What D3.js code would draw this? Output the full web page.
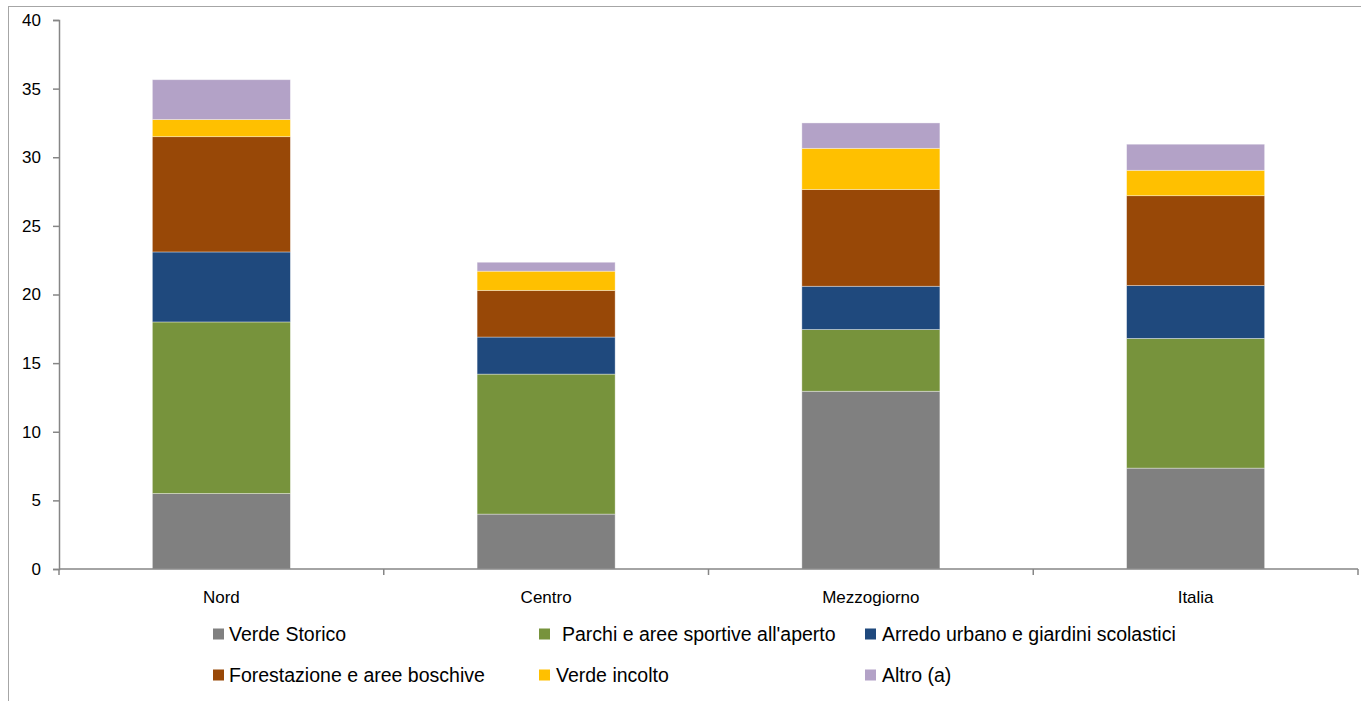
<!DOCTYPE html>
<html>
<head>
<meta charset="utf-8">
<script src="https://cdn.jsdelivr.net/npm/d3@7"></script>
<style>
  html, body { margin: 0; padding: 0; background: #fff; }
  svg { display: block; }
  text { font-family: "Liberation Sans", Arial, sans-serif; fill: #000; }
</style>
</head>
<body>
<svg id="chart" width="1361" height="701"></svg>
<script>
// Regions on the x axis
const categories = ["Nord", "Centro", "Mezzogiorno", "Italia"];

// Series names (stack order, bottom to top)
const seriesNames = [
  "Verde Storico",
  "Parchi e aree sportive all'aperto",
  "Arredo urbano e giardini scolastici",
  "Forestazione e aree boschive",
  "Verde incolto",
  "Altro (a)"
];

// Values per series, one per region
const verdeStorico   = [5.5, 4.0, 12.95, 7.35];
const parchi         = [12.5, 10.2, 4.5, 9.45];
const arredo         = [5.1, 2.7, 3.15, 3.85];
const forestazione   = [8.4, 3.4, 7.05, 6.55];
const verdeIncolto   = [1.25, 1.4, 3.0, 1.85];
const altro          = [2.9, 0.65, 1.85, 1.9];

const seriesColors = ["#808080", "#77933C", "#1F497D", "#984807", "#FFC000", "#B3A2C7"];

const yTicks = [0, 5, 10, 15, 20, 25, 30, 35, 40];

// Build rows for d3.stack
const seriesValues = [verdeStorico, parchi, arredo, forestazione, verdeIncolto, altro];
const rows = categories.map((c, i) => {
  const r = { category: c };
  seriesNames.forEach((s, j) => { r[s] = seriesValues[j][i]; });
  return r;
});

const svg = d3.select("#chart");

// Outer chart frame
svg.append("rect")
  .attr("x", 8.5).attr("y", 6.5)
  .attr("width", 1400).attr("height", 800)
  .attr("fill", "none")
  .attr("stroke", "#a6a6a6")
  .attr("stroke-width", 1);

const plot = { left: 59, right: 1358, top: 20, bottom: 569 };

const x = d3.scaleBand()
  .domain(categories)
  .range([plot.left, plot.right])
  .paddingInner(0.575)
  .paddingOuter(0.2875);

const y = d3.scaleLinear()
  .domain([0, 40])
  .range([plot.bottom, plot.top]);

const stacked = d3.stack().keys(seriesNames)(rows);

// Bars
const layers = svg.append("g").selectAll("g")
  .data(stacked)
  .join("g")
  .attr("fill", (d, i) => seriesColors[i]);

layers.selectAll("rect")
  .data(d => d)
  .join("rect")
  .attr("x", d => x(d.data.category))
  .attr("width", x.bandwidth())
  .attr("y", d => y(d[1]))
  .attr("height", d => y(d[0]) - y(d[1]))
  .attr("stroke", "rgba(255,255,255,0.45)")
  .attr("stroke-width", 0.8);

const axisColor = "#868686";

// Y axis
const yAxis = svg.append("g")
  .attr("transform", `translate(${plot.left},0)`)
  .call(d3.axisLeft(y).tickValues(yTicks).tickSize(6).tickPadding(12));
yAxis.select(".domain").attr("stroke", axisColor).attr("stroke-width", 1.5);
yAxis.selectAll(".tick line").attr("stroke", axisColor).attr("stroke-width", 1.5);
yAxis.selectAll(".tick text")
  .attr("font-size", 17)
  .attr("font-family", "Liberation Sans, Arial, sans-serif")
  .attr("fill", "#000");

// X axis: ticks at category boundaries
const xAxisG = svg.append("g").attr("transform", `translate(0,${plot.bottom})`);
xAxisG.append("line")
  .attr("x1", plot.left).attr("x2", plot.right)
  .attr("y1", 0).attr("y2", 0)
  .attr("stroke", axisColor).attr("stroke-width", 1.5);
const step = x.step();
const boundaries = d3.range(categories.length + 1).map(i => plot.left + i * (plot.right - plot.left) / categories.length);
xAxisG.selectAll("line.tick")
  .data(boundaries)
  .join("line")
  .attr("class", "tick")
  .attr("x1", d => d).attr("x2", d => d)
  .attr("y1", 0).attr("y2", 6)
  .attr("stroke", axisColor).attr("stroke-width", 1.5);
xAxisG.selectAll("text")
  .data(categories)
  .join("text")
  .attr("x", d => x(d) + x.bandwidth() / 2)
  .attr("y", 34)
  .attr("text-anchor", "middle")
  .attr("font-size", 17)
  .text(d => d);

// Legend
const legendCols = [213, 539, 865];
const legendTextX = [229, 562, 882];
const legendRows = [634, 675];
const legendPos = [
  [0, 0], [1, 0], [2, 0],
  [0, 1], [1, 1], [2, 1]
];
const legend = svg.append("g");
seriesNames.forEach((name, i) => {
  const [c, r] = legendPos[i];
  const cy = legendRows[r];
  const sq = 11;
  legend.append("rect")
    .attr("x", legendCols[c])
    .attr("y", cy - sq / 2)
    .attr("width", sq).attr("height", sq)
    .attr("fill", seriesColors[i]);
  const tx = (i === 4) ? 556 : legendTextX[c];
  legend.append("text")
    .attr("x", tx)
    .attr("y", cy)
    .attr("dy", "0.36em")
    .attr("font-size", 19.5)
    .text(name);
});
</script>
</body>
</html>
